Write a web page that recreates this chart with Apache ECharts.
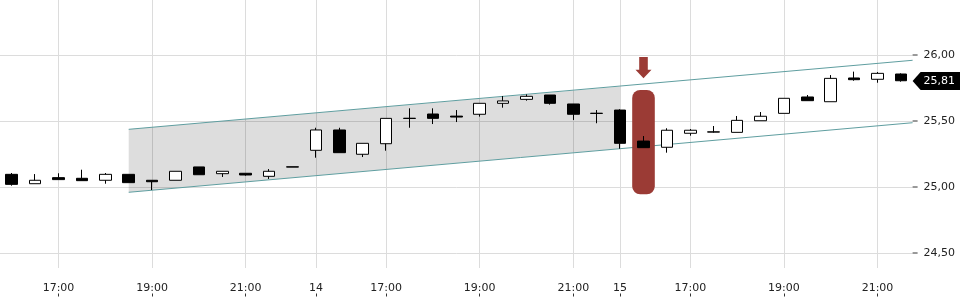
<!DOCTYPE html>
<html><head><meta charset="utf-8">
<script src="https://cdn.jsdelivr.net/npm/echarts@6/dist/echarts.min.js"></script>
<style>html,body{margin:0;padding:0;background:#fff}#c{width:960px;height:300px}</style>
</head><body><div id="c"></div>
<script>
const categories = [
 '13 16:00','13 16:30','13 17:00','13 17:30','13 18:00','13 18:30','13 19:00','13 19:30','13 20:00','13 20:30','13 21:00','13 21:30','13 22:00',
 '14 15:30','14 16:00','14 16:30','14 17:00','14 17:30','14 18:00','14 18:30','14 19:00','14 19:30','14 20:00','14 20:30','14 21:00','14 21:30',
 '15 15:30','15 16:00','15 16:30','15 17:00','15 17:30','15 18:00','15 18:30','15 19:00','15 19:30','15 20:00','15 20:30','15 21:00','15 21:30'
];
const openValues  = [25.096,25.025,25.071,25.066,25.051,25.096,25.051,25.051,25.152,25.101,25.104,25.081,25.153,
 25.278,25.432,25.248,25.328,25.519,25.553,25.537,25.551,25.634,25.664,25.697,25.629,25.557,
 25.583,25.348,25.301,25.407,25.416,25.414,25.502,25.558,25.682,25.646,25.826,25.816,25.856];
const closeValues = [25.020,25.051,25.056,25.048,25.096,25.033,25.040,25.119,25.093,25.119,25.091,25.119,25.151,
 25.432,25.260,25.331,25.520,25.521,25.520,25.530,25.634,25.652,25.687,25.634,25.551,25.559,
 25.331,25.298,25.430,25.430,25.418,25.505,25.536,25.672,25.654,25.823,25.813,25.861,25.805];
const lowValues   = [25.010,25.025,25.056,25.048,25.025,25.033,24.977,25.051,25.093,25.076,25.086,25.061,25.151,
 25.222,25.260,25.227,25.275,25.449,25.477,25.492,25.533,25.601,25.654,25.624,25.508,25.483,
 25.290,25.298,25.260,25.389,25.412,25.414,25.502,25.558,25.654,25.646,25.805,25.790,25.798];
const highValues  = [25.106,25.098,25.104,25.131,25.106,25.096,25.051,25.119,25.152,25.119,25.104,25.136,25.153,
 25.449,25.449,25.331,25.520,25.596,25.596,25.583,25.634,25.689,25.702,25.697,25.629,25.583,
 25.589,25.386,25.445,25.439,25.462,25.538,25.568,25.672,25.697,25.848,25.874,25.871,25.861];
const yTicks = [24.5, 25.0, 25.5, 26.0];
const labelTimes = ['17:00','19:00','21:00'];
const dayStartTime = '15:30';
const channelUpper = [[5, 25.437], [38.5, 25.960]];
const channelLower = [[5, 24.960], [38.5, 25.487]];
const shadeArea = [[5, 25.437], [26, 25.761], [26, 25.292], [5, 24.960]];
const highlightBar = [[27, 24.945, 25.735]];
const arrowMark = [[27, 25.985, 25.823]];
const lastPrice = [[38, 25.81]];

const fmt = v => v.toFixed(2).replace('.', ',');
const showTick = (i, v) => { const t = v.split(' ')[1]; return t === dayStartTime || labelTimes.indexOf(t) >= 0; };
const labelFmt = v => { const p = v.split(' '); return p[1] === dayStartTime ? p[0] : p[1]; };
const FONT = 'DejaVu Sans';
const RED = '#9b3b35';

const chart = echarts.init(document.getElementById('c'), null, {renderer: 'canvas'});
chart.setOption({
  animation: false,
  backgroundColor: '#fff',
  grid: {left: 0, right: 47.4, top: 0, bottom: 32, containLabel: false, outerBoundsMode: 'none'},
  xAxis: [{
    type: 'category', data: categories, boundaryGap: true, offset: 25.5,
    axisLine: {show: false},
    axisTick: {show: true, alignWithLabel: true, interval: showTick, length: 3, lineStyle: {color: '#333'}},
    axisLabel: {inside: true, margin: 0, interval: showTick, formatter: labelFmt, fontSize: 11, fontFamily: FONT, color: '#222'},
    splitLine: {show: true, alignWithLabel: true, interval: showTick, lineStyle: {color: '#dcdcdc', width: 1}}
  }, {
    type: 'value', min: -0.5, max: 38.5, show: false
  }],
  yAxis: {
    type: 'value', position: 'right', min: 24.3864, max: 26.4167, scale: true,
    axisLine: {show: false},
    axisTick: {show: false},
    axisLabel: {
      margin: 0, customValues: yTicks,
      formatter: v => '{t|}{v|' + fmt(v) + '}',
      rich: {
        t: {width: 5, height: 1, backgroundColor: '#333', verticalAlign: 'middle'},
        v: {padding: [0, 0, 0, 6], fontSize: 11, fontFamily: FONT, color: '#222', verticalAlign: 'middle'}
      }
    },
    splitLine: {show: true, showMinLine: false, showMaxLine: false, lineStyle: {color: '#dcdcdc', width: 1}}
  },
  series: [
    {
      type: 'custom', xAxisIndex: 1, z: 1, data: [0],
      renderItem: (params, api) => ({
        type: 'polygon',
        shape: {points: shadeArea.map(p => api.coord(p))},
        style: {fill: 'rgba(0,0,0,0.135)'}
      })
    },
    {type: 'line', xAxisIndex: 1, z: 2, data: channelUpper, symbol: 'none', lineStyle: {color: '#5f9ea0', width: 1}},
    {type: 'line', xAxisIndex: 1, z: 2, data: channelLower, symbol: 'none', lineStyle: {color: '#5f9ea0', width: 1}},
    {
      type: 'custom', xAxisIndex: 1, z: 3, data: highlightBar,
      renderItem: (params, api) => {
        const top = api.coord([api.value(0), api.value(2)]);
        const bot = api.coord([api.value(0), api.value(1)]);
        const w = api.size([1, 0])[0] * 0.966;
        return {type: 'rect', shape: {x: top[0] - w / 2, y: top[1], width: w, height: bot[1] - top[1], r: 8}, style: {fill: RED}};
      }
    },
    {
      type: 'candlestick', z: 4, barWidth: 12,
      data: categories.map((c, i) => [openValues[i], closeValues[i], lowValues[i], highValues[i]]),
      itemStyle: {color: '#fff', color0: '#000', borderColor: '#000', borderColor0: '#000', borderColorDoji: '#000', borderWidth: 1}
    },
    {
      type: 'custom', xAxisIndex: 1, z: 5, data: arrowMark,
      renderItem: (params, api) => {
        const t = api.coord([api.value(0), api.value(1)]);
        const p = api.coord([api.value(0), api.value(2)]);
        const x = t[0], hh = 8.5;
        return {type: 'polygon', shape: {points: [
          [x - 4.3, t[1]], [x + 4.3, t[1]], [x + 4.3, p[1] - hh], [x + 8, p[1] - hh],
          [x, p[1]], [x - 8, p[1] - hh], [x - 4.3, p[1] - hh]
        ]}, style: {fill: RED}};
      }
    },
    {
      type: 'custom', xAxisIndex: 1, z: 6, clip: false, data: lastPrice,
      renderItem: (params, api) => {
        const p = api.coord([api.value(0), api.value(1)]);
        const x0 = params.coordSys.x + params.coordSys.width;
        const y = p[1] + 1;
        return {type: 'group', children: [
          {type: 'polygon', shape: {points: [[x0, y], [x0 + 8, y - 9], [x0 + 50, y - 9], [x0 + 50, y + 9], [x0 + 8, y + 9]]}, style: {fill: '#000'}},
          {type: 'text', style: {text: fmt(api.value(1)), x: x0 + 11, y: y, verticalAlign: 'middle', fill: '#fff', fontSize: 11, fontFamily: FONT}}
        ]};
      }
    }
  ]
});
</script></body></html>
